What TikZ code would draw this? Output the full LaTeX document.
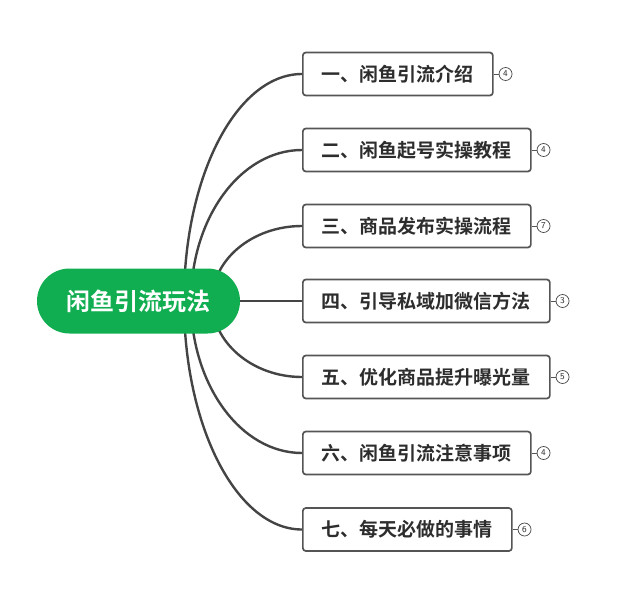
\documentclass[tikz,border=0pt]{standalone}
\usepackage{fontspec}
\newfontfamily\cjk{Noto Sans CJK SC}[BoldFont={Noto Sans CJK SC Bold}]
\usetikzlibrary{backgrounds}
\definecolor{rootgreen}{RGB}{16,174,80}
\definecolor{linegrey}{RGB}{68,68,68}
\definecolor{boxgrey}{RGB}{85,85,85}
\definecolor{txtgrey}{RGB}{45,45,45}
\begin{document}
\begin{tikzpicture}[x=1pt,y=-1pt,
  rootbox/.style={fill=rootgreen, rounded corners=32.5pt, minimum width=203pt, minimum height=65pt, inner sep=0pt, text=white, font=\cjk\bfseries\fontsize{24pt}{24pt}\selectfont},
  topicbox/.style={draw=boxgrey, line width=1.7pt, fill=white, rounded corners=3pt, anchor=west, inner xsep=19pt, inner ysep=0pt, minimum height=43pt, text=txtgrey, font=\cjk\bfseries\fontsize{19pt}{19pt}\selectfont},
  badge/.style={draw=linegrey, line width=0.7pt, circle, minimum size=13pt, inner sep=0pt, text=txtgrey, font=\sffamily\fontsize{9pt}{9pt}\selectfont},
  conn/.style={draw=linegrey, line width=2.4pt},
  tick/.style={draw=boxgrey, line width=0.8pt}]
\useasboundingbox (0,0) rectangle (619,595);
\node[rootbox] (root) at (138.5,301) {闲鱼引流玩法};
\node[topicbox] (b1) at (302,74) {一、闲鱼引流介绍};
\node[topicbox] (b2) at (302,150) {二、闲鱼起号实操教程};
\node[topicbox] (b3) at (302,226) {三、商品发布实操流程};
\node[topicbox] (b4) at (302,301) {四、引导私域加微信方法};
\node[topicbox] (b5) at (302,377) {五、优化商品提升曝光量};
\node[topicbox] (b6) at (302,453) {六、闲鱼引流注意事项};
\node[topicbox] (b7) at (302,529.5) {七、每天必做的事情};
\foreach \i/\n in {1/4,2/4,3/7,4/3,5/5,6/4,7/6}{
  \node[badge, anchor=west] (c\i) at ([xshift=5pt]b\i.east) {\n};
  \draw[tick] (b\i.east) -- (c\i.west);
}
\coordinate (s1) at (184,301);
\coordinate (s2) at (191,301);
\coordinate (s3) at (212,301);
\begin{pgfonlayer}{background}
\draw[conn] (s1) .. controls (184,175.7) and (236.9,74) .. (b1.west);
\draw[conn] (s2) .. controls (191,217.6) and (240.7,150) .. (b2.west);
\draw[conn] (s3) .. controls (212,259.6) and (252.3,226) .. (b3.west);
\draw[conn] (root.east) -- (b4.west);
\draw[conn] (s3) .. controls (212,342.4) and (252.3,377) .. (b5.west);
\draw[conn] (s2) .. controls (191,384.9) and (240.7,453) .. (b6.west);
\draw[conn] (s1) .. controls (184,426.9) and (236.9,529.5) .. (b7.west);
\end{pgfonlayer}
\end{tikzpicture}
\end{document}
